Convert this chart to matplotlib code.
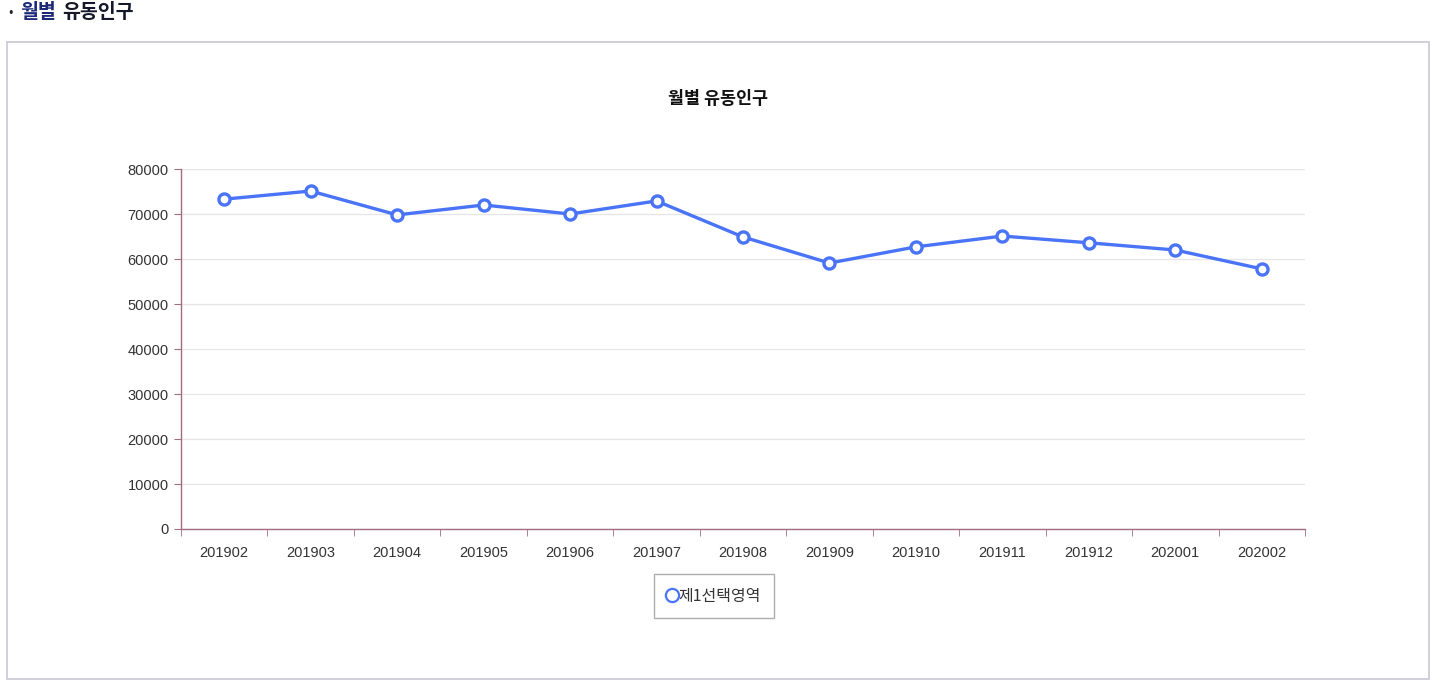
import matplotlib
matplotlib.use('Agg')
import matplotlib.pyplot as plt
from matplotlib.patches import Rectangle
import numpy as np

plt.rcParams['font.family'] = ['Noto Sans CJK KR', 'DejaVu Sans']

# ---- data ----
months = ['201902', '201903', '201904', '201905', '201906', '201907', '201908',
          '201909', '201910', '201911', '201912', '202001', '202002']
population = [73300, 75100, 69800, 72000, 70000, 72900, 64900,
              59100, 62700, 65100, 63600, 62000, 57800]
series_name = '제1선택영역'
chart_title = '월별 유동인구'

LINE_COLOR = '#4a74f7'
AXIS_COLOR = '#a06e80'
W, H = 1435, 686

fig = plt.figure(figsize=(W / 100, H / 100), dpi=100)

# outer frame + page heading
fig.patches.append(Rectangle((7 / W, 1 - 679 / H), (1429 - 7) / W, (679 - 42) / H,
                             transform=fig.transFigure, fill=False,
                             edgecolor='#c8c8d4', linewidth=1.2))
fig.text(5 / W, 1 - 14 / H, '·', fontsize=13, fontweight='bold', color='#222', va='center')
fig.text(20 / W, 1 - 13 / H, '월별', fontsize=14, fontweight='bold',
         color='#1c2a78', va='center')
fig.text(62 / W, 1 - 13 / H, '유동인구', fontsize=14, fontweight='bold',
         color='#15172a', va='center')

ax = fig.add_axes([181 / W, 1 - 529 / H, (1305 - 181) / W, (529 - 169) / H])
x = np.arange(len(months))
ax.plot(x, population, color=LINE_COLOR, linewidth=2.4, marker='o',
        markersize=8, markerfacecolor='white', markeredgecolor=LINE_COLOR,
        markeredgewidth=2.4, label=series_name, zorder=3)

ax.set_xlim(-0.5, len(months) - 0.5)
ax.set_ylim(0, 80000)
ax.set_yticks(np.arange(0, 80001, 10000))
ax.set_xticks(x)
ax.set_xticklabels(months)
ax.set_xticks(np.arange(-0.5, len(months), 1), minor=True)
ax.tick_params(axis='x', which='major', length=0, pad=12, labelsize=10.5, labelcolor='#333')
ax.tick_params(axis='x', which='minor', length=5, color=AXIS_COLOR)
ax.tick_params(axis='y', length=5, color=AXIS_COLOR, labelsize=10.5, labelcolor='#333', pad=4)
for lbl in ax.get_xticklabels() + ax.get_yticklabels():
    lbl.set_family(['Liberation Sans', 'DejaVu Sans'])

ax.grid(axis='y', color='#e6e6e6', linewidth=1)
ax.set_axisbelow(True)
for s in ['top', 'right']:
    ax.spines[s].set_visible(False)
for s in ['left', 'bottom']:
    ax.spines[s].set_color(AXIS_COLOR)
    ax.spines[s].set_linewidth(1)

fig.text(718 / W, 1 - 99 / H, chart_title, fontsize=12.5, fontweight='bold',
         color='#111', ha='center', va='center')

leg_handle = plt.Line2D([], [], linestyle='none', marker='o', markersize=9.5,
                        markerfacecolor='white', markeredgecolor=LINE_COLOR,
                        markeredgewidth=1.6)
leg = fig.legend([leg_handle], [series_name], loc='center',
                 bbox_to_anchor=(714 / W, 1 - 596 / H), frameon=True,
                 fancybox=False, fontsize=11.5, handlelength=0.6,
                 handletextpad=0.1, borderpad=0.85, borderaxespad=0)
leg.get_frame().set_edgecolor('#999')
leg.get_frame().set_linewidth(1)
for t in leg.get_texts():
    t.set_color('#333')

fig.savefig('out.png', dpi=100)
